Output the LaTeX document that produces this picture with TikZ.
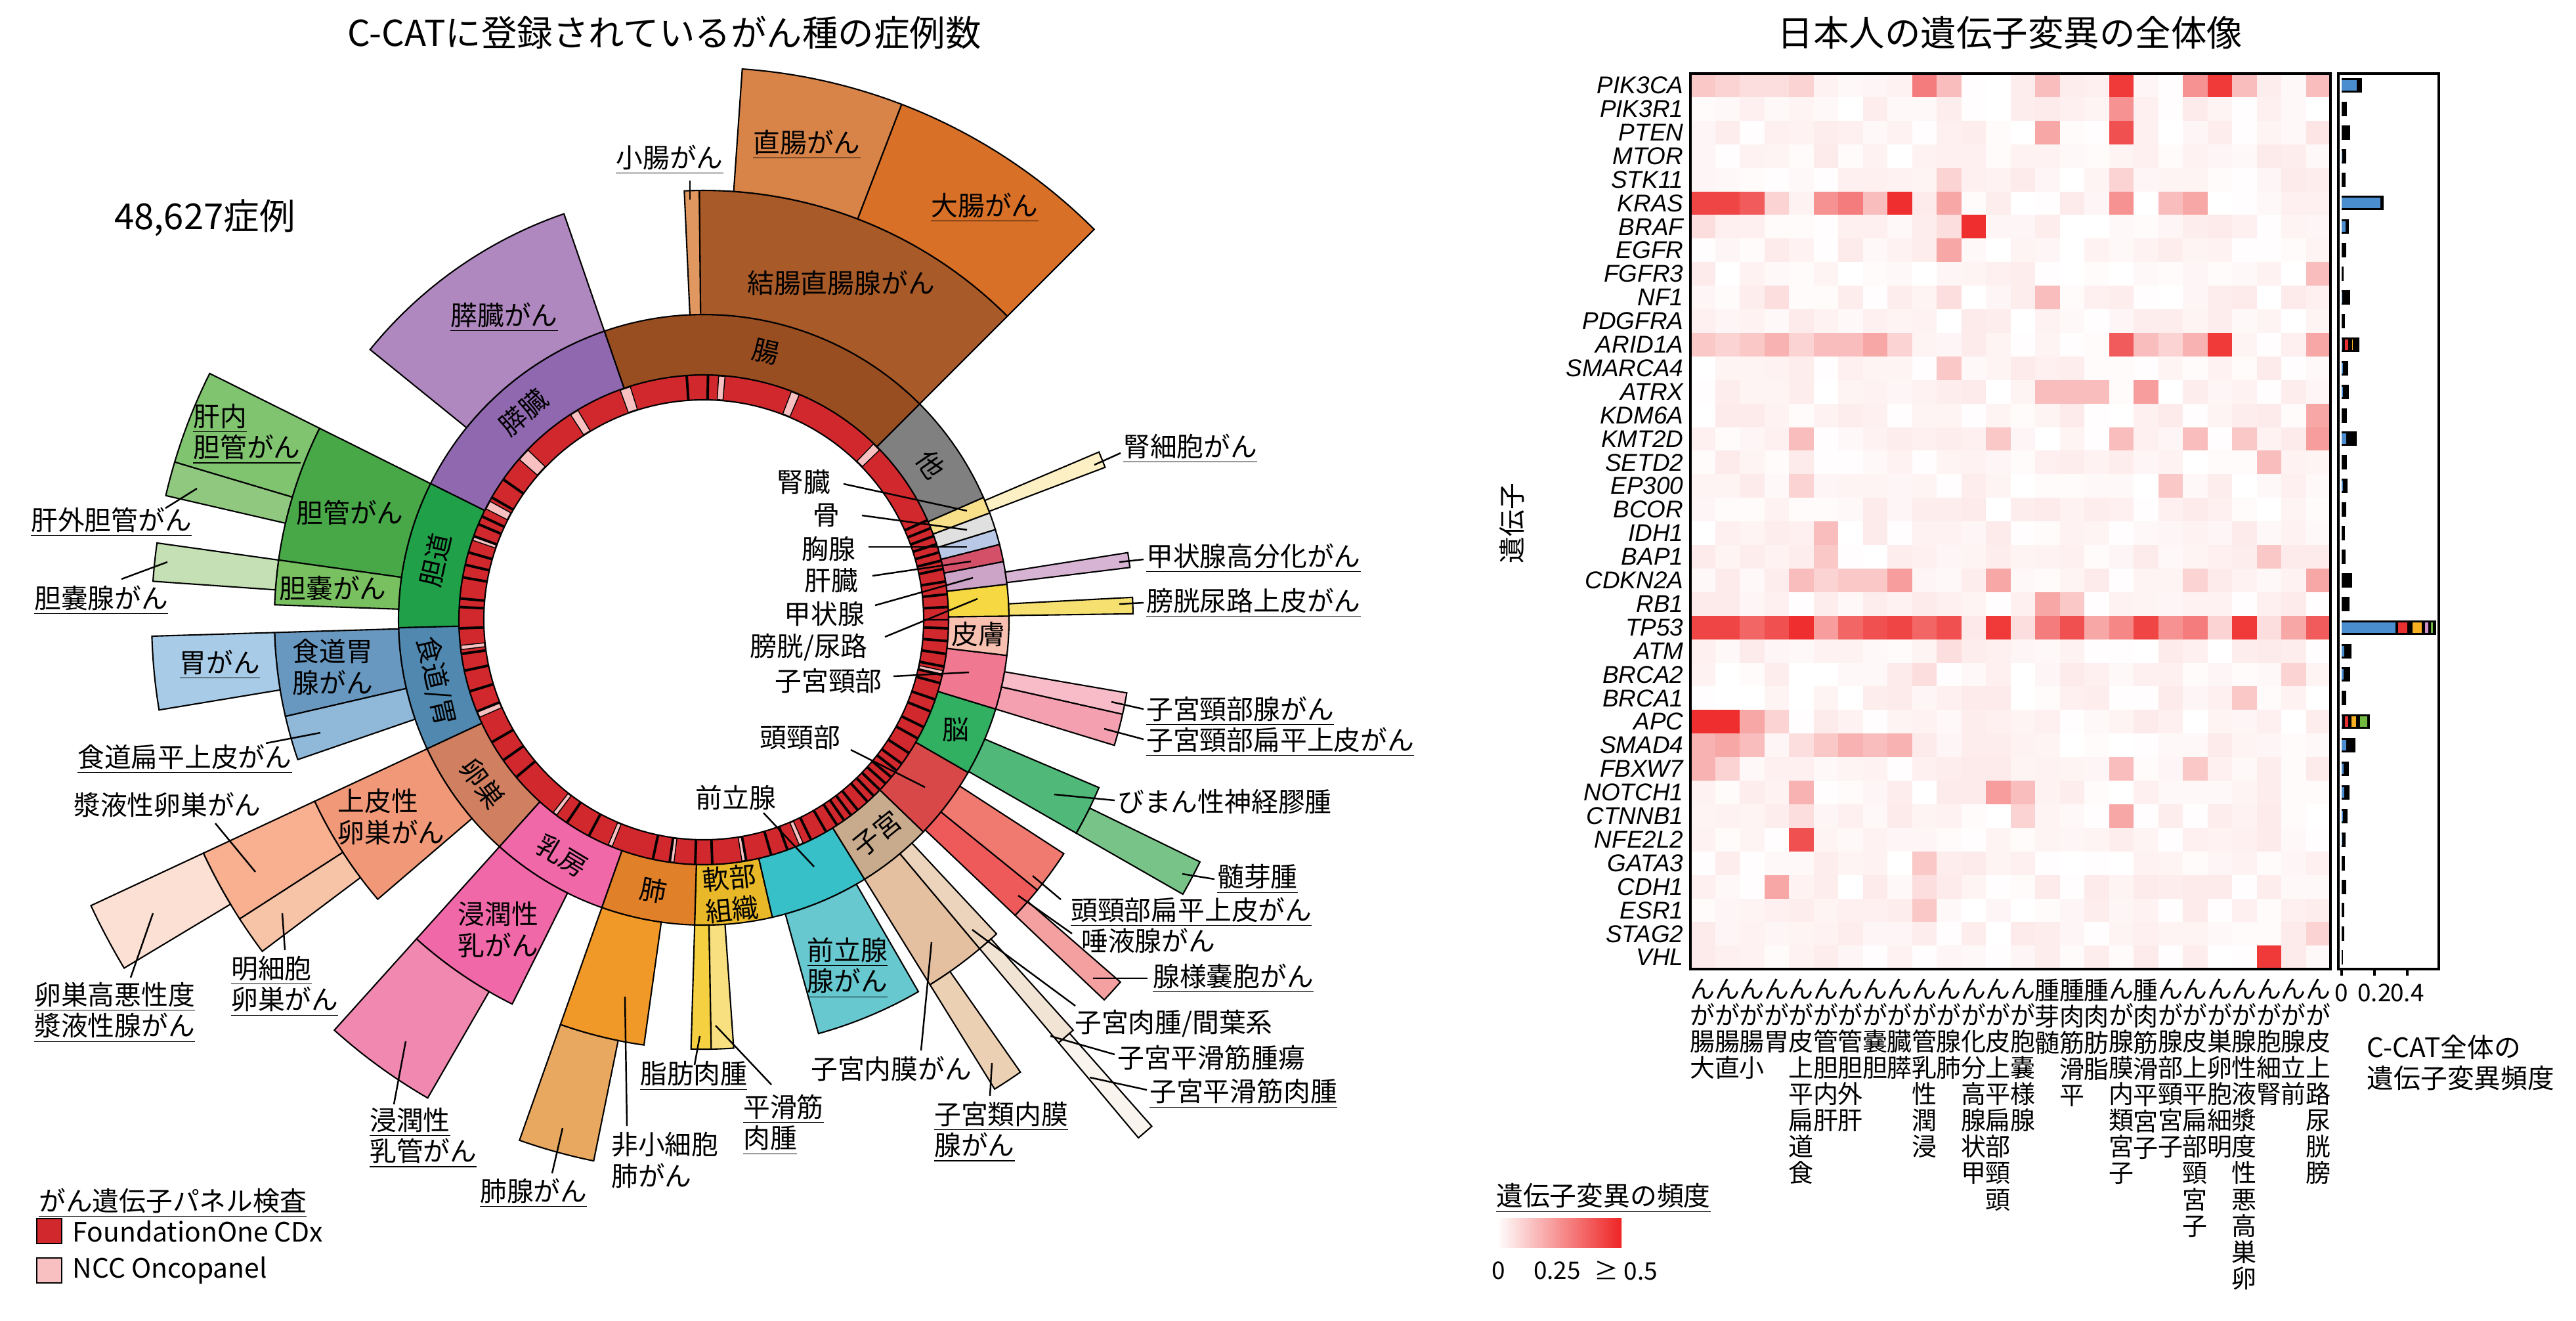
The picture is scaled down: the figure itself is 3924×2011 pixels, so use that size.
\documentclass[tikz,border=0pt]{standalone}
\usepackage{fontspec}
\setmainfont{Noto Sans CJK JP}
\newfontfamily\genefont{Liberation Sans}
\usetikzlibrary{calc,positioning}

% colours
\definecolor{ringred}{HTML}{D0282C}
\definecolor{ringpink}{HTML}{F8C0C0}
\definecolor{hmred}{HTML}{EE2424}
\definecolor{barblue}{HTML}{4A8ED0}
\definecolor{barred}{HTML}{E83030}
\definecolor{barorange}{HTML}{F8B020}
\definecolor{barpurple}{HTML}{D090C8}
\definecolor{bargreen}{HTML}{70B840}

% annular sector about the current origin
\newcommand\sect[5]{\filldraw[fill=#5,draw=black,line width=0.6pt]
  (#1:#3) arc[start angle=#1,end angle=#2,radius=#3] -- (#2:#4)
  arc[start angle=#2,end angle=#1,radius=#4] -- cycle;}
% upright characters stacked, last one on top
\def\vsend{}
\newcommand\vstack[1]{\def\vsacc{}\vsloop#1\vsend\vsacc}
\def\vsloop#1{\ifx#1\vsend\else\ifx\vsacc\empty\def\vsacc{#1}\else
  \expandafter\def\expandafter\vsacc\expandafter{\expandafter#1\expandafter\\\vsacc}\fi
  \expandafter\vsloop\fi}
\newcommand\leader[3]{\coordinate (#1-a) at (#2); \coordinate (#1-b) at (#3);
  \draw[leaderline] (#1-a) -- (#1-b);}

\tikzset{
  lab/.style={font=\fontsize{11.6}{13.6}\selectfont, inner sep=1pt, align=center},
  labw/.style={lab, anchor=west, align=left},
  catlab/.style={lab},
  leaderline/.style={line width=0.7pt},
  title/.style={font=\fontsize{15.5}{18}\selectfont, inner sep=0pt},
  genelab/.style={font=\fontsize{10.5}{12}\selectfont\genefont\itshape, anchor=east, inner sep=0pt},
  collab/.style={font=\fontsize{10.8}{11.4}\selectfont, anchor=north, align=center, inner sep=0pt},
  ticklab/.style={font=\fontsize{10.5}{12}\selectfont, inner sep=0pt},
}

\begin{document}
\begin{tikzpicture}[x=0.01cm,y=0.01cm]
\useasboundingbox (0,0) rectangle (3924,-2011);

% ---------- sunburst ----------
\node[title] (t1) at (1012,-50) {C-CATに登録されているがん種の症例数};
\node[title] (ncase) at (312,-332) {48,627症例};

\begin{scope}[shift={(1072,-944)}]
  % panel ring
  \sect{0}{360}{335}{373}{ringred}
  \foreach \a/\b in {44/46,67/69,85/86.5,107.5/110,121/123,136/139,151/153,160/161,186/187,
                     202/203.5,232/233,247/248,262/263,279/280,293/294,347/348}
    {\fill[ringpink,draw=black,line width=0.4pt] (\a:336) arc[start angle=\a,end angle=\b,radius=336]
       -- (\b:372) arc[start angle=\b,end angle=\a,radius=372] -- cycle;}
  \foreach \a in {-2,-5,-8,-11,-13,-15,-19,-22,-26,-29,-33,-36,-38,-40,-42,-44,-46,-48,-51,-53,
                  -55,-57,-60,-64,-70,-74,-80,-88,-92,-98,-102,-118,-124,-140,-145,-150,-158,-163,
                  -168,-172,-178,-183,175,170,167,164,160,157,155,150,145,94,89,3,6,9,12,14,16,18,20,22,24}
    {\draw[line width=1.1pt] (\a:335) -- (\a:373);}

  % categories
  \foreach \a/\b/\c in {23.6/45/808080, 45/109/984E20, 109/153.5/9068B0, 153.5/181.5/20A048,
      181.5/205/5088B0, 205/228/D08060, 228/250.5/F068A8, 250.5/268.3/E08028, 268.3/283/E8B828,
      283/301.8/38C0C8, 301.8/316/C8AA8C, 316/330/D84848, 330/343/30B060, 343/353.3/F07890,
      353.3/360.7/F8C0B0, 0.7/6.7/F5D842, 6.7/11/CCA4C8, 11/14.3/D45068, 14.3/17.2/B8C8E6,
      17.2/20.5/E0E0E0, 20.5/23.6/F8E08A}
    {\definecolor{cc}{HTML}{\c}\sect{\a}{\b}{373}{465}{cc}}

  % subtypes, level 2
  \foreach \a/\b/\c in {45/90.6/A85A28, 90.6/92.6/E09860, 109/141/B088C0, 153.5/172/48A848,
      172/178/78C060, 181.7/193/6898C0, 193/199/90B8D8, 205/220.6/F09878, 228/243.5/F068A8,
      250.5/262/F09828, 268.3/271/F5D040, 271/274/F8E080, 285.5/300/68C8D0, 301.8/310/E4C0A0,
      310/313/ECD4BC, 316.5/321/EE5A5A, 321/327/F07A70, 330.2/337/50B878, 343/347.3/F4A0B0,
      347.3/350.2/F8BCC8, 0.8/3/F5E070, 7/9/D8B4D4, 20.8/23/FCF0C4}
    {\definecolor{cc}{HTML}{\c}\sect{\a}{\b}{465}{654}{cc}}

  % level 3
  \foreach \a/\b/\c in {45/69/D87028, 69/86/D88448, 153.5/163.4/80C470, 163.4/167/90C880,
      172/176/C4E0B4, 181.7/189.4/A8CCE8, 205/212.8/F8B090, 212.8/216.9/F8C4A8, 228/240/F088B0,
      250.5/258.5/E8A860, 301.8/305/ECD0B4, 310/312/F2E4D4, 316.5/319/F5A0A0, 330.2/334/78C488}
    {\definecolor{cc}{HTML}{\c}\sect{\a}{\b}{654}{841}{cc}}

  % level 4
  \foreach \a/\b/\c in {205/211/FCE0D4, 310/311.5/FAF4EE}
    {\definecolor{cc}{HTML}{\c}\sect{\a}{\b}{841}{1030}{cc}}

  % category labels
  \node[catlab, rotate=-55.7] (c-other) at (34.3:419) {他};
  \node[catlab, rotate=-13] (c-gut) at (77:419) {腸};
  \node[catlab, rotate=41] (c-panc) at (131:419) {膵臓};
  \node[catlab, rotate=77.5] (c-bil) at (167.5:419) {胆道};
  \node[catlab, rotate=-77] (c-eso) at (193:419) {食道/胃};
  \node[catlab, rotate=-53.5] (c-ova) at (216.5:419) {卵巣};
  \node[catlab, rotate=-31] (c-brst) at (239:419) {乳房};
  \node[catlab, rotate=-10.6] (c-lung) at (259.4:419) {肺};
  \node[catlab, rotate=5.6] (c-soft) at (275.6:419) {軟部\\組織};
  \node[catlab, rotate=39] (c-uter) at (309:419) {子宮};
  \node[catlab] (c-brain) at (336.5:419) {脳};
  \node[catlab] (c-skin) at (357:419) {皮膚};
\end{scope}

% labels inside the hole
\node[lab] (h-kid) at (1224,-734) {腎臓};
\node[lab] (h-bone) at (1259,-785) {骨};
\node[lab] (h-thym) at (1262,-836) {胸腺};
\node[lab] (h-liv) at (1266,-884) {肝臓};
\node[lab] (h-thyr) at (1256,-935) {甲状腺};
\node[lab] (h-blad) at (1232,-986) {膀胱/尿路};
\node[lab] (h-cerv) at (1262,-1037) {子宮頸部};
\node[lab] (h-hn) at (1219,-1123) {頭頸部};
\node[lab] (h-pros) at (1121,-1215) {前立腺};
\leader{lk}{1285,-737}{1473,-778}
\leader{lb}{1313,-785}{1473,-807}
\leader{lt}{1323,-833}{1473,-833}
\leader{ll}{1329,-877}{1479,-855}
\leader{ly}{1333,-922}{1482,-880}
\leader{lu}{1348,-970}{1489,-912}
\leader{lc}{1361,-1030}{1476,-1024}
\leader{lh}{1296,-1142}{1409,-1199}
\leader{lp}{1163,-1238}{1240,-1320}

% labels on the bands
\node[lab] (s-crc) at (1281,-431) {結腸直腸腺がん};
\node[lab] (s-rect) at (1229,-220) {\underline{直腸がん}};
\node[lab] (s-colon) at (1500,-316) {\underline{大腸がん}};
\node[lab] (s-panc) at (768,-483) {\underline{膵臓がん}};
\node[lab, align=left] (s-ihc) at (376,-661) {\underline{肝内}\\\underline{胆管がん}};
\node[lab] (s-bile) at (533,-781) {胆管がん};
\node[lab] (s-gb) at (507,-896) {胆嚢がん};
\node[lab] (s-gast) at (335,-1012) {\underline{胃がん}};
\node[lab, align=left] (s-ega) at (507,-1016) {食道胃\\腺がん};
\node[lab, align=left] (s-eoc) at (596,-1244) {上皮性\\卵巣がん};
\node[lab, align=left] (s-ibc) at (759,-1416) {浸潤性\\乳がん};
\node[lab, align=left] (s-pra) at (1291,-1474) {\underline{前立腺}\\\underline{腺がん}};

% labels outside with leaders
\node[lab] (o-si) at (1020,-243) {\underline{小腸がん}};
\leader{osi}{1051,-275}{1051,-304}
\node[labw] (o-rcc) at (1707,-683) {\underline{腎細胞がん}};
\leader{orcc}{1707,-690}{1667,-708}
\node[labw] (o-thy) at (1742,-850) {\underline{甲状腺高分化がん}};
\leader{othy}{1742,-852}{1705,-856}
\node[labw] (o-bl) at (1742,-918) {\underline{膀胱尿路上皮がん}};
\leader{obl}{1742,-918}{1705,-920}
\node[labw] (o-cad) at (1742,-1083) {\underline{子宮頸部腺がん}};
\leader{ocad}{1742,-1080}{1693,-1069}
\node[labw] (o-csc) at (1742,-1130) {\underline{子宮頸部扁平上皮がん}};
\leader{ocsc}{1742,-1126}{1682,-1110}
\node[labw] (o-gli) at (1698,-1221) {びまん性神経膠腫};
\leader{ogli}{1698,-1219}{1606,-1210}
\node[labw] (o-med) at (1850,-1339) {\underline{髄芽腫}};
\leader{omed}{1850,-1339}{1801,-1331}
\node[labw] (o-hns) at (1627,-1389) {\underline{頭頸部扁平上皮がん}};
\leader{ohns}{1616,-1370}{1573,-1334}
\node[labw] (o-sal) at (1643,-1433) {唾液腺がん};
\leader{osal}{1633,-1422}{1551,-1364}
\node[labw] (o-acc) at (1752,-1490) {\underline{腺様嚢胞がん}};
\leader{oacc}{1748,-1490}{1665,-1490}
\node[labw] (o-usm) at (1633,-1559) {子宮肉腫/間葉系};
\leader{ousm}{1638,-1532}{1481,-1416}
\node[labw] (o-usmt) at (1698,-1611) {子宮平滑筋腫瘍};
\leader{ousmt}{1698,-1606}{1600,-1578}
\node[labw] (o-lms) at (1747,-1666) {\underline{子宮平滑筋肉腫}};
\leader{olms}{1747,-1660}{1660,-1641}
\node[labw] (o-endo) at (1419,-1724) {\underline{子宮類内膜}\\\underline{腺がん}};
\leader{oendo}{1508,-1669}{1511,-1619}
\node[labw] (o-ute) at (1231,-1628) {子宮内膜がん};
\leader{oute}{1403,-1600}{1419,-1435}
\node[labw] (o-stlms) at (1128,-1713) {\underline{平滑筋}\\\underline{肉腫}};
\leader{ostlms}{1175,-1652}{1090,-1562}
\node[labw] (o-lipo) at (971,-1639) {\underline{脂肪肉腫}};
\leader{olipo}{1058,-1622}{1066,-1578}
\node[labw] (o-nsc) at (927,-1767) {非小細胞\\肺がん};
\leader{onsc}{955,-1715}{952,-1518}
\node[labw] (o-lad) at (727,-1817) {\underline{肺腺がん}};
\leader{olad}{841,-1787}{857,-1718}
\node[labw] (o-idc) at (559,-1733) {\underline{浸潤性}\\\underline{乳管がん}};
\leader{oidc}{600,-1682}{618,-1586}
\node[labw] (o-hgs) at (48,-1542) {\underline{卵巣高悪性度}\\\underline{漿液性腺がん}};
\leader{ohgs}{199,-1489}{233,-1391}
\node[labw] (o-ccc) at (348,-1502) {\underline{明細胞}\\\underline{卵巣がん}};
\leader{occc}{434,-1447}{430,-1391}
\node[labw] (o-ser) at (108,-1226) {漿液性卵巣がん};
\leader{oser}{328,-1254}{389,-1328}
\node[labw] (o-escc) at (114,-1156) {\underline{食道扁平上皮がん}};
\leader{oescc}{405,-1132}{488,-1116}
\node[labw] (o-gba) at (48,-914) {\underline{胆嚢腺がん}};
\leader{ogba}{185,-882}{255,-856}
\node[labw] (o-ehc) at (43,-795) {\underline{肝外胆管がん}};
\leader{oehc}{252,-774}{300,-744}

% legend
\node[labw] (lg-t) at (55,-1832) {\underline{がん遺伝子パネル検査}};
\node[draw=black, fill=ringred, minimum size=0.38cm, inner sep=0pt] (lg-f) at (75,-1875) {};
\node[labw, right=0.12cm of lg-f] (lg-ft) {FoundationOne CDx};
\node[draw=black, fill=ringpink, minimum size=0.38cm, inner sep=0pt] (lg-n) at (75,-1935) {};
\node[labw, right=0.12cm of lg-n] (lg-nt) {NCC Oncopanel};

% ---------- heatmap ----------
\node[title] (t2) at (3062,-50) {日本人の遺伝子変異の全体像};
\node[lab, rotate=90] (ylab) at (2303,-797) {遺伝子};

\pgfmathsetseed{11}
\foreach \r in {1,...,38}{
  \foreach \c in {1,...,26}{
    \pgfmathtruncatemacro\v{random(0,9)}
    \fill[hmred!\v!white] ({2575+37.5*(\c-1)},{-112-35.9*(\r-1)}) rectangle ++(37.5,-35.9);
  }
}
\foreach \r/\c/\v in {1/1/25,1/2/20,1/3/15,1/4/15,1/5/20,1/10/60,1/11/30,1/15/30,1/18/90,1/21/50,1/22/90,1/23/30,1/26/30,
   2/18/50,3/18/80,3/15/40,3/26/12,5/11/20,5/18/20,
   6/1/85,6/2/85,6/3/75,6/4/20,6/6/50,6/7/60,6/8/30,6/9/95,6/11/40,6/18/50,6/20/30,6/21/40,
   7/1/15,7/12/95,7/11/15,8/11/40,9/26/30,10/15/30,10/4/15,10/11/15,
   12/1/25,12/2/20,12/3/25,12/4/35,12/5/20,12/6/30,12/7/30,12/8/40,12/9/20,12/18/75,12/19/30,12/20/20,12/21/35,12/22/90,12/26/40,
   13/11/25,14/15/30,14/16/30,14/17/30,14/19/45,15/26/40,
   16/5/30,16/13/25,16/18/30,16/21/30,16/23/25,16/26/45,17/24/30,18/5/20,18/20/25,20/6/30,21/6/25,21/24/25,
   22/5/30,22/6/20,22/7/25,22/8/25,22/9/45,22/13/40,22/21/20,22/26/40,23/15/40,23/16/25,
   24/1/85,24/2/85,24/3/70,24/4/80,24/5/95,24/6/45,24/7/70,24/8/80,24/9/85,24/10/70,24/11/80,24/12/10,24/13/90,
   24/14/15,24/15/60,24/16/80,24/17/40,24/18/55,24/19/85,24/20/50,24/21/60,24/22/20,24/23/90,24/24/15,24/25/40,24/26/75,
   25/11/15,26/10/15,26/25/20,27/23/25,28/1/95,28/2/95,28/3/40,28/4/20,
   29/1/35,29/2/40,29/3/30,29/5/15,29/6/25,29/7/35,29/8/30,29/9/35,30/1/35,30/2/20,30/18/30,30/21/25,
   31/5/35,31/13/45,31/14/30,32/5/15,32/14/20,32/18/40,33/5/80,34/10/25,35/4/40,35/10/15,36/10/25,37/26/20,38/24/90}
  {\fill[hmred!\v!white] ({2575+37.5*(\c-1)},{-112-35.9*(\r-1)}) rectangle ++(37.5,-35.9);}
\draw[line width=1pt] (2575,-112) rectangle (3550,-1476);

% gene names
\foreach \g [count=\i] in {PIK3CA,PIK3R1,PTEN,MTOR,STK11,KRAS,BRAF,EGFR,FGFR3,NF1,PDGFRA,ARID1A,
    SMARCA4,ATRX,KDM6A,KMT2D,SETD2,EP300,BCOR,IDH1,BAP1,CDKN2A,RB1,TP53,ATM,BRCA2,BRCA1,APC,
    SMAD4,FBXW7,NOTCH1,CTNNB1,NFE2L2,GATA3,CDH1,ESR1,STAG2,VHL}
  {\node[genelab] (g\i) at (2565,{-112-35.9*(\i-0.5)}) {\g};}

% cancer type names
\foreach \t [count=\i] in {大腸がん,直腸がん,小腸がん,胃がん,食道扁平上皮がん,肝内胆管がん,肝外胆管がん,
    胆嚢がん,膵臓がん,浸潤性乳管がん,肺腺がん,甲状腺高分化がん,頭頸部扁平上皮がん,腺様嚢胞がん,髄芽腫,
    平滑筋肉腫,脂肪肉腫,子宮類内膜腺がん,子宮平滑筋肉腫,子宮頸部腺がん,子宮頸部扁平上皮がん,
    明細胞卵巣がん,卵巣高悪性度漿液性腺がん,腎細胞がん,前立腺がん,膀胱尿路上皮がん}
  {\node[collab] (k\i) at ({2575+37.5*(\i-0.5)},-1490) {\expandafter\vstack\expandafter{\t}};}

% bar panel
\draw[line width=1pt] (3562,-112) rectangle (3715,-1476);
\foreach \L/\b [count=\i] in {30.7/22.7,8.3/0,13.3/0,7.3/1.3,6/0,64/59.3,11/6,7.3/0,3.3/0,13.3/1.3,5/0,
    27.3/1.3,10/2,11/2.3,8.3/0,23.3/7.3,8.3/0,9.3/2.3,7.3/0,5/0,6/0,16/0,12.3/0,144/81.7,15.3/4,
    13.3/3.3,7.3/0,43.3/1.3,21/7.3,11/3.3,12.3/4,9.3/2,6.3/1.3,5/0,7.3/0,4/0,4/0,2.3/0}
  {\fill[black] (3567,{-112-35.9*(\i-0.5)+11}) rectangle ++(\L,-22);
   \fill[barblue] (3567,{-112-35.9*(\i-0.5)+8}) rectangle ++(\b,-16);}
\foreach \i/\a/\e/\c in {12/5.3/10.3/barred,12/16.3/17/barorange,
    24/86.3/100/barred,24/108.3/122.3/barorange,24/127.3/132.3/barpurple,24/136.3/139.3/bargreen,
    28/5.3/10.3/barred,28/15.3/22.3/barorange,28/27.7/39.3/bargreen}
  {\fill[\c] ({3567+\a},{-112-35.9*(\i-0.5)+8}) rectangle ({3567+\e},{-112-35.9*(\i-0.5)-8});}
\foreach \x/\t [count=\i] in {3567/0,3617/0.2,3667/0.4}
  {\draw[line width=1pt] (\x,-1476) -- (\x,-1486);
   \node[ticklab] (xt\i) at (\x,-1512) {\t};}
\node[labw, anchor=north west, inner sep=0pt] (barcap) at (3605,-1575) {C-CAT全体の\\遺伝子変異頻度};

% frequency legend
\node[labw] (fq-t) at (2275,-1825) {\underline{遺伝子変異の頻度}};
\shade[left color=white, right color=hmred] (2280,-1855) rectangle (2470,-1900);
\node[ticklab] (fq0) at (2283,-1935) {0};
\node[ticklab] (fq1) at (2372,-1935) {0.25};
\node[ticklab, anchor=west] (fq2) at (2428,-1935) {≥ 0.5};
\end{tikzpicture}
\end{document}
